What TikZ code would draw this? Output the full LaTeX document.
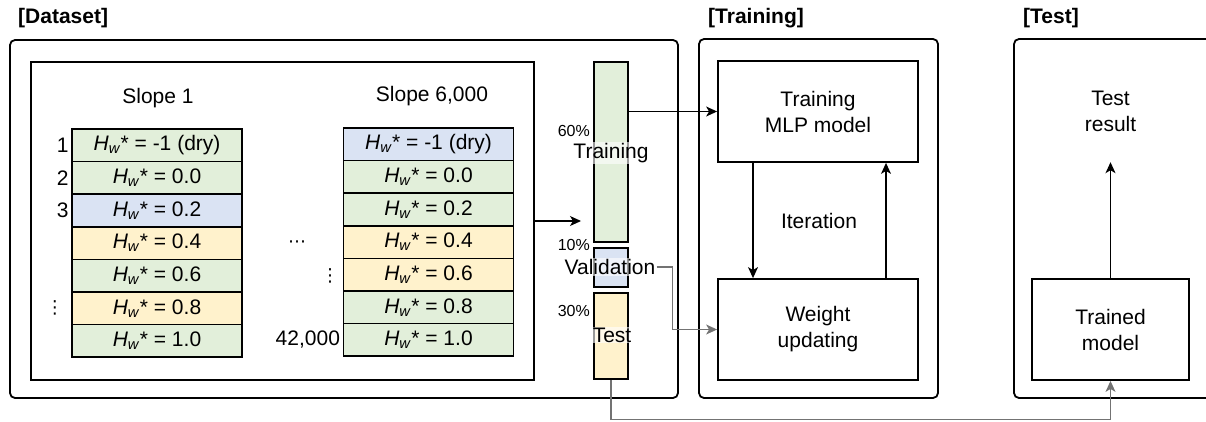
\documentclass[tikz,border=0pt]{standalone}
\usepackage{fontspec}
\setmainfont{Liberation Sans}
\newfontfamily\dotsfont{DejaVu Sans}
\usepackage{tikz}
\usetikzlibrary{positioning,arrows.meta}
\usepackage{xcolor}
\definecolor{rowgreen}{HTML}{E2EFDA}
\definecolor{rowblue}{HTML}{DAE3F3}
\definecolor{rowyellow}{HTML}{FFF2CC}
\newcommand{\hwstar}{\textit{H}\textsubscript{\textit{w}}*}

\begin{document}
\begin{tikzpicture}[x=1pt, y=-1pt,
	font=\fontsize{21}{26}\selectfont,
	panel/.style={draw, line width=1.8pt, rounded corners=5pt, inner sep=0pt},
	block/.style={draw, line width=1.8pt, inner sep=0pt, align=center, minimum height=101pt},
	hrow/.style={draw, line width=1.5pt, outer sep=0pt, inner sep=0pt, minimum width=170pt, minimum height=32.6pt},
	part/.style={draw, line width=1.5pt, inner sep=0pt, minimum width=34pt},
	title/.style={anchor=west, inner sep=0pt, font=\fontsize{21}{25}\selectfont\bfseries},
	pct/.style={anchor=east, inner sep=1pt, font=\fontsize{16}{19}\selectfont},
	tag/.style={fill=white, fill opacity=0.6, text opacity=1, inner sep=1pt},
	ellip/.style={inner sep=0pt, font=\dotsfont\fontsize{18}{20}\selectfont},
	arr/.style={-{Stealth[length=11pt,width=10pt,inset=3pt]}, line width=1.1pt},
	feed/.style={arr, draw=black!55}
	]
\useasboundingbox (0,0) rectangle (1206,421);

% panels and their titles
\node[panel, minimum width=668pt, minimum height=358pt] (dataset) at (344,219) {};
\node[draw, line width=1.8pt, inner sep=0pt, minimum width=503pt, minimum height=318pt] (slopes) at (282.5,221) {};
\node[panel, minimum width=239pt, minimum height=359pt] (trainpanel) at (818.5,218.5) {};
\node[panel, minimum width=240pt, minimum height=359pt] (testpanel) at (1134,218.5) {};
\node[title] (datasettitle) at (18,18) {[Dataset]};
\node[title] (trainingtitle) at (708,18) {[Training]};
\node[title] (testtitle) at (1023,18) {[Test]};

% first slope
\node (slopefirst) at (158,98) {Slope 1};
\node[hrow, fill=rowgreen] (a1) at (157,145.3) {\hwstar{} = -1 (dry)};
\node[hrow, fill=rowgreen, below=0pt of a1] (a2) {\hwstar{} = 0.0};
\node[hrow, fill=rowblue, below=0pt of a2] (a3) {\hwstar{} = 0.2};
\node[hrow, fill=rowyellow, below=0pt of a3] (a4) {\hwstar{} = 0.4};
\node[hrow, fill=rowgreen, below=0pt of a4] (a5) {\hwstar{} = 0.6};
\node[hrow, fill=rowyellow, below=0pt of a5] (a6) {\hwstar{} = 0.8};
\node[hrow, fill=rowgreen, below=0pt of a6] (a7) {\hwstar{} = 1.0};
\node[left=0pt of a1] (n1) {1};
\node[left=0pt of a2] (n2) {2};
\node[left=0pt of a3] (n3) {3};
\node[ellip, left=8pt of a6] (ndots) {⋮};

% last slope
\node (slopelast) at (432,96) {Slope 6,000};
\node[hrow, fill=rowblue] (b1) at (428.5,144.3) {\hwstar{} = -1 (dry)};
\node[hrow, fill=rowgreen, below=0pt of b1] (b2) {\hwstar{} = 0.0};
\node[hrow, fill=rowgreen, below=0pt of b2] (b3) {\hwstar{} = 0.2};
\node[hrow, fill=rowyellow, below=0pt of b3] (b4) {\hwstar{} = 0.4};
\node[hrow, fill=rowyellow, below=0pt of b4] (b5) {\hwstar{} = 0.6};
\node[hrow, fill=rowgreen, below=0pt of b5] (b6) {\hwstar{} = 0.8};
\node[hrow, fill=rowgreen, below=0pt of b6] (b7) {\hwstar{} = 1.0};
\node[left=0pt of b7] (nlast) {42,000};
\node[ellip] (hdots) at (297,244) {⋯};
\node[ellip] (vdots) at (330,276) {⋮};

% split bar
\node[part, fill=rowgreen, minimum height=180pt] (trainpart) at (611,152) {};
\node[part, fill=rowblue, minimum height=39pt] (valpart) at (611,267.5) {};
\node[part, fill=rowyellow, minimum height=86pt] (testpart) at (611,336) {};
\node[pct] (trainpct) at (591,131) {60\%};
\node[pct] (valpct) at (591,245) {10\%};
\node[pct] (testpct) at (591,311) {30\%};
\node[tag] (traintag) at (611,153) {Training};
\node[tag] (valtag) at (610,267) {Validation};
\node[tag] (testtag) at (612,335) {Test};

% training loop
\node[block, minimum width=200pt] (mlp) at (818,111.5) {Training\\MLP model};
\node[block, minimum width=200pt] (weight) at (818,329.5) {Weight\\updating};
\node (iter) at (819,221) {Iteration};

% test
\node[minimum width=157pt, minimum height=101pt, align=center] (result) at (1110.5,111.5) {Test\\result};
\node[block, minimum width=157pt] (trained) at (1110.5,329.5) {Trained\\model};

% connectors
\coordinate (split) at (581,221);
\draw[arr] (slopes.east) -- (split);
\draw[arr] (trainpart.east |- mlp.west) -- (mlp.west);
\draw[feed] (valtag.east) -- ++(16,0) |- (weight.west);
\draw[feed] (testpart.south) -- ++(0,40) -| (trained.south);
\draw[arr] ([xshift=-65pt]mlp.south) -- ([xshift=-65pt]weight.north);
\draw[arr] ([xshift=68pt]weight.north) -- ([xshift=68pt]mlp.south);
\draw[arr] (trained.north) -- (result.south);
\end{tikzpicture}
\end{document}
